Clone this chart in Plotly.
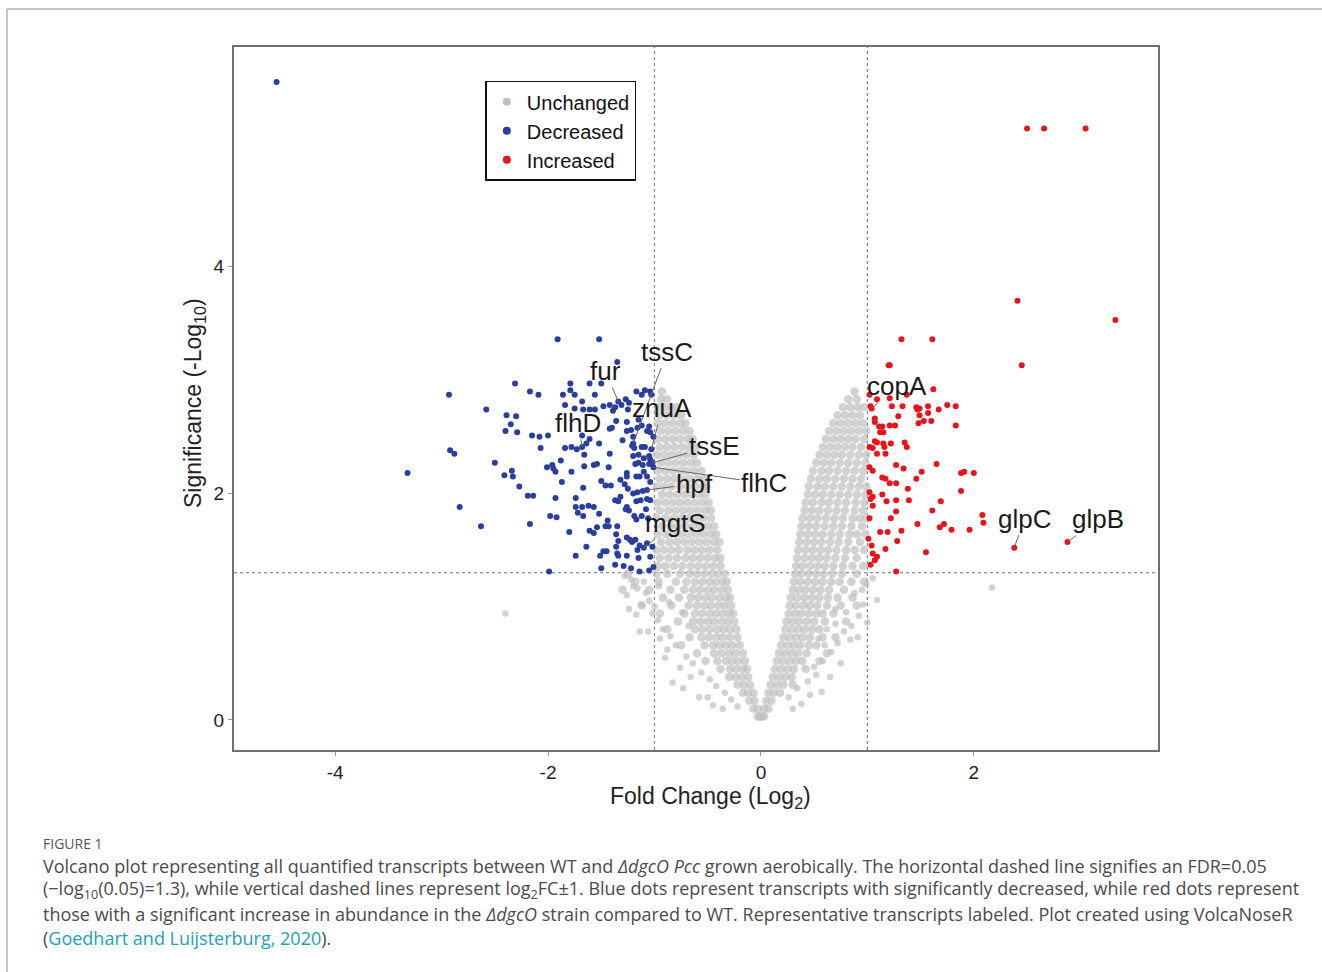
import plotly.graph_objects as go

# ---------------- data ----------------
blue_pts = [
    (-4.55, 5.63),
    (-1.91, 3.36), (-1.52, 3.36), (-1.35, 3.16),
    (-2.93, 2.87), (-2.31, 2.97), (-2.17, 2.90), (-2.09, 2.87), (-2.58, 2.74),
    (-2.39, 2.69), (-2.30, 2.68), (-2.35, 2.61), (-2.40, 2.55), (-2.29, 2.54),
    (-2.15, 2.51), (-2.08, 2.50), (-2.00, 2.51), (-2.07, 2.40),
    (-2.92, 2.38), (-2.88, 2.35), (-3.32, 2.18), (-2.50, 2.27),
    (-2.41, 2.16), (-2.33, 2.15), (-2.34, 2.20), (-2.27, 2.06), (-2.19, 1.98), (-2.14, 1.98),
    (-2.83, 1.88), (-2.63, 1.71), (-2.17, 1.73), (-1.98, 1.80), (-1.92, 1.79), (-1.99, 1.31),
    (-1.93, 1.96), (-1.87, 2.10), (-2.01, 2.23), (-1.96, 2.25), (-1.95, 2.22), (-1.93, 2.19),
    (-1.88, 2.29), (-1.78, 2.19), (-1.84, 2.40), (-1.78, 2.41), (-1.73, 2.39),
    (-1.66, 2.34), (-1.66, 2.24), (-1.57, 2.25), (-1.54, 2.26), (-1.68, 2.51), (-1.61, 2.48),
    (-1.64, 2.44), (-1.52, 2.44), (-1.43, 2.23), (-1.42, 2.35), (-1.50, 2.11), (-1.67, 2.05),
    (-1.74, 1.96), (-1.46, 2.07), (-1.41, 2.07), (-1.32, 2.12), (-1.26, 2.18),
    (-1.79, 2.97), (-1.79, 2.91), (-1.75, 2.87), (-1.86, 2.87), (-1.61, 2.97), (-1.50, 2.97),
    (-1.84, 2.78), (-1.75, 2.75), (-1.68, 2.81), (-1.67, 2.74), (-1.61, 2.74), (-1.56, 2.74),
    (-1.56, 2.87), (-1.48, 2.77), (-1.42, 2.78), (-1.37, 2.76), (-1.39, 2.73),
    (-1.31, 2.78), (-1.27, 2.83), (-1.24, 2.80),
    (-1.17, 2.90), (-1.12, 2.87), (-1.09, 2.91), (-1.04, 2.90), (-1.03, 2.87),
    (-1.25, 2.74), (-1.36, 2.64), (-1.42, 2.57), (-1.40, 2.58), (-1.26, 2.63), (-1.15, 2.65), (-1.16, 2.58),
    (-1.26, 2.55), (-1.22, 2.56), (-1.20, 2.50), (-1.12, 2.60), (-1.05, 2.59), (-1.04, 2.54), (-1.07, 2.55),
    (-1.30, 2.47), (-1.21, 2.42), (-1.19, 2.40), (-1.12, 2.41), (-1.09, 2.41), (-1.01, 2.50),
    (-1.20, 2.33), (-1.15, 2.34), (-1.10, 2.31), (-1.05, 2.33), (-1.04, 2.30),
    (-1.18, 2.26), (-1.15, 2.27), (-1.11, 2.25), (-1.05, 2.26),
    (-1.26, 2.15), (-1.17, 2.15), (-1.14, 2.15), (-1.07, 2.15), (-1.10, 2.19),
    (-1.28, 2.08), (-1.25, 2.04), (-1.20, 2.00), (-1.16, 2.01), (-1.11, 2.02), (-1.04, 2.10),
    (-1.37, 1.94), (-1.34, 1.93), (-1.32, 1.97), (-1.26, 1.88), (-1.17, 1.93), (-1.13, 1.94), (-1.07, 1.95), (-1.04, 1.94),
    (-1.74, 1.88), (-1.68, 1.88), (-1.62, 1.89), (-1.57, 1.88), (-1.72, 1.83), (-1.67, 1.80), (-1.52, 1.82),
    (-1.80, 1.66), (-1.61, 1.67), (-1.57, 1.65), (-1.54, 1.70), (-1.44, 1.76), (-1.43, 1.71), (-1.46, 1.71), (-1.35, 1.71),
    (-1.27, 1.86), (-1.24, 1.85), (-1.19, 1.80), (-1.17, 1.77), (-1.12, 1.80), (-1.08, 1.86), (-1.06, 1.78),
    (-1.36, 1.64), (-1.34, 1.58), (-1.36, 1.53), (-1.26, 1.61), (-1.23, 1.59), (-1.21, 1.57), (-1.18, 1.59),
    (-1.14, 1.54), (-1.16, 1.50), (-1.07, 1.56), (-1.02, 1.53),
    (-1.64, 1.53), (-1.74, 1.45), (-1.51, 1.45), (-1.48, 1.49), (-1.45, 1.49), (-1.35, 1.47), (-1.34, 1.45),
    (-1.26, 1.45), (-1.15, 1.43), (-1.04, 1.44),
    (-1.50, 1.34), (-1.37, 1.37), (-1.29, 1.36), (-1.22, 1.34), (-1.14, 1.31), (-1.05, 1.32), (-1.01, 1.35),
]

red_pts = [
    (2.50, 5.22), (2.66, 5.22), (3.05, 5.22),
    (2.41, 3.70), (3.33, 3.53), (1.32, 3.36), (1.61, 3.36), (1.20, 3.13), (1.21, 3.13), (2.45, 3.13),
    (1.62, 2.92), (1.37, 2.87), (1.21, 2.84), (1.09, 2.83), (1.02, 2.87),
    (1.03, 2.77), (1.23, 2.77), (1.33, 2.77),
    (1.46, 2.76), (1.49, 2.75), (1.57, 2.77), (1.47, 2.74), (1.67, 2.74), (1.75, 2.78), (1.83, 2.77),
    (1.57, 2.71), (1.49, 2.69), (1.29, 2.68), (1.07, 2.66), (1.07, 2.63),
    (1.53, 2.64), (1.60, 2.64), (1.48, 2.62),
    (1.11, 2.59), (1.14, 2.59), (1.21, 2.60), (1.26, 2.60), (1.83, 2.60),
    (1.12, 2.54), (1.15, 2.54),
    (1.07, 2.46), (1.09, 2.45), (1.15, 2.44), (1.22, 2.44), (1.35, 2.45), (1.37, 2.41),
    (1.02, 2.41), (1.05, 2.40), (1.16, 2.41),
    (1.09, 2.35), (1.17, 2.35),
    (1.65, 2.26), (1.27, 2.25), (1.34, 2.22), (1.02, 2.23), (1.05, 2.20),
    (1.51, 2.19), (1.46, 2.13), (1.88, 2.18), (1.91, 2.19), (2.00, 2.18),
    (1.14, 2.14), (1.17, 2.13), (1.21, 2.09), (1.27, 2.09),
    (1.02, 2.01), (1.05, 1.97), (1.03, 1.95),
    (1.14, 1.99), (1.18, 1.93), (1.27, 1.94), (1.38, 2.04), (1.39, 1.94),
    (1.88, 2.02), (1.69, 1.93), (1.05, 1.89), (1.27, 1.84), (1.61, 1.85),
    (2.08, 1.81), (2.09, 1.74), (1.02, 1.78), (1.22, 1.78),
    (1.47, 1.73), (1.72, 1.73), (1.68, 1.70), (1.79, 1.68), (1.96, 1.68),
    (1.12, 1.66), (1.19, 1.66), (1.32, 1.67),
    (1.01, 1.60), (1.04, 1.54), (1.28, 1.58), (1.17, 1.51),
    (1.55, 1.48), (1.05, 1.47), (1.09, 1.44), (1.07, 1.41), (1.03, 1.37), (1.27, 1.31),
]

# gray (unchanged) transcripts, by rows of significance: (y, [fold changes])
gray_left_rows = [
    (0.03, [-0.03, -0.01]),
    (0.10, [-0.07, -0.03]),
    (0.17, [-0.11, -0.06]),
    (0.24, [-0.17, -0.12, -0.07]),
    (0.31, [-0.22, -0.16, -0.10]),
    (0.38, [-0.30, -0.24, -0.18, -0.12]),
    (0.45, [-0.38, -0.29, -0.23, -0.17, -0.13]),
    (0.52, [-0.52, -0.41, -0.33, -0.27, -0.21, -0.15]),
    (0.59, [-0.60, -0.44, -0.37, -0.30, -0.24, -0.17]),
    (0.66, [-0.75, -0.53, -0.45, -0.39, -0.33, -0.27, -0.20]),
    (0.73, [-0.67, -0.56, -0.49, -0.42, -0.36, -0.29, -0.22]),
    (0.80, [-0.88, -0.62, -0.55, -0.48, -0.41, -0.35, -0.29, -0.23]),
    (0.87, [-0.78, -0.64, -0.57, -0.50, -0.44, -0.37, -0.31, -0.25]),
    (0.94, [-0.95, -0.72, -0.62, -0.55, -0.48, -0.42, -0.36, -0.30, -0.26]),
    (1.01, [-1.12, -0.84, -0.68, -0.60, -0.53, -0.47, -0.40, -0.34, -0.28]),
    (1.08, [-0.92, -0.77, -0.66, -0.59, -0.52, -0.46, -0.39, -0.33, -0.29]),
    (1.15, [-1.30, -1.05, -0.85, -0.72, -0.64, -0.57, -0.50, -0.44, -0.37, -0.31]),
    (1.22, [-1.18, -0.96, -0.80, -0.70, -0.62, -0.55, -0.48, -0.42, -0.36, -0.32]),
    (1.29, [-1.25, -0.98, -0.88, -0.76, -0.67, -0.60, -0.53, -0.46, -0.40, -0.34]),
    (1.36, [-0.97, -0.90, -0.82, -0.74, -0.66, -0.59, -0.52, -0.45, -0.38]),
    (1.43, [-0.95, -0.87, -0.79, -0.71, -0.64, -0.57, -0.50, -0.43, -0.38]),
    (1.50, [-0.98, -0.91, -0.84, -0.77, -0.69, -0.62, -0.55, -0.48, -0.41]),
    (1.57, [-0.94, -0.86, -0.79, -0.72, -0.65, -0.58, -0.51, -0.44, -0.39]),
    (1.64, [-0.97, -0.89, -0.82, -0.75, -0.68, -0.61, -0.54, -0.47, -0.42]),
    (1.71, [-0.93, -0.85, -0.78, -0.71, -0.64, -0.57, -0.50, -0.44]),
    (1.78, [-0.98, -0.90, -0.82, -0.75, -0.68, -0.61, -0.54, -0.47]),
    (1.85, [-0.95, -0.87, -0.80, -0.73, -0.66, -0.59, -0.52, -0.47]),
    (1.92, [-0.97, -0.90, -0.83, -0.76, -0.69, -0.62, -0.55, -0.49]),
    (1.99, [-0.93, -0.86, -0.79, -0.72, -0.65, -0.58, -0.52]),
    (2.06, [-0.98, -0.91, -0.84, -0.76, -0.69, -0.62, -0.55, -0.51]),
    (2.13, [-0.95, -0.88, -0.81, -0.74, -0.67, -0.60, -0.54]),
    (2.20, [-0.97, -0.90, -0.83, -0.76, -0.70, -0.63, -0.56]),
    (2.27, [-0.94, -0.87, -0.80, -0.73, -0.66, -0.60]),
    (2.34, [-0.98, -0.91, -0.84, -0.77, -0.70, -0.63]),
    (2.41, [-0.95, -0.88, -0.81, -0.74, -0.67, -0.61]),
    (2.48, [-0.97, -0.90, -0.83, -0.76, -0.69, -0.64]),
    (2.55, [-0.94, -0.87, -0.80, -0.73, -0.67]),
    (2.62, [-0.97, -0.90, -0.83, -0.76, -0.71]),
    (2.69, [-0.95, -0.88, -0.81, -0.75]),
    (2.76, [-0.97, -0.90, -0.84, -0.79]),
    (2.83, [-0.94, -0.88]),
    (2.90, [-0.93]),
]

gray_right_rows = [
    (0.03, [0.01, 0.03]),
    (0.10, [0.03, 0.07]),
    (0.17, [0.05, 0.10]),
    (0.24, [0.07, 0.12, 0.18]),
    (0.31, [0.09, 0.15, 0.21, 0.30]),
    (0.38, [0.11, 0.17, 0.23, 0.29]),
    (0.45, [0.13, 0.19, 0.25, 0.31, 0.42]),
    (0.52, [0.15, 0.21, 0.27, 0.33, 0.39, 0.55]),
    (0.59, [0.17, 0.23, 0.29, 0.35, 0.43, 0.62]),
    (0.66, [0.19, 0.25, 0.31, 0.37, 0.45, 0.52]),
    (0.73, [0.21, 0.27, 0.33, 0.39, 0.46, 0.58, 0.70]),
    (0.80, [0.23, 0.29, 0.35, 0.41, 0.48, 0.55]),
    (0.87, [0.24, 0.30, 0.36, 0.43, 0.50, 0.60, 0.80]),
    (0.94, [0.26, 0.32, 0.38, 0.45, 0.52, 0.58, 0.68]),
    (1.01, [0.27, 0.33, 0.40, 0.46, 0.53, 0.62, 0.75, 0.90]),
    (1.08, [0.28, 0.34, 0.41, 0.48, 0.55, 0.63, 0.72, 0.86]),
    (1.15, [0.30, 0.36, 0.42, 0.49, 0.56, 0.64, 0.78]),
    (1.22, [0.31, 0.37, 0.44, 0.51, 0.58, 0.66, 0.74, 0.85, 0.97]),
    (1.29, [0.32, 0.38, 0.45, 0.52, 0.59, 0.67, 0.76, 0.90]),
    (1.36, [0.33, 0.39, 0.46, 0.53, 0.60, 0.68, 0.77, 0.86, 0.96]),
    (1.43, [0.34, 0.41, 0.48, 0.55, 0.62, 0.70, 0.79, 0.90]),
    (1.50, [0.35, 0.42, 0.49, 0.56, 0.63, 0.71, 0.80, 0.88, 0.97]),
    (1.57, [0.36, 0.43, 0.50, 0.57, 0.65, 0.73, 0.82, 0.93]),
    (1.64, [0.37, 0.44, 0.51, 0.58, 0.66, 0.74, 0.83, 0.90, 0.98]),
    (1.71, [0.38, 0.45, 0.52, 0.60, 0.68, 0.76, 0.85, 0.95]),
    (1.78, [0.39, 0.46, 0.53, 0.61, 0.69, 0.77, 0.86, 0.93, 0.99]),
    (1.85, [0.41, 0.48, 0.55, 0.63, 0.71, 0.79, 0.88, 0.96]),
    (1.92, [0.42, 0.49, 0.57, 0.64, 0.72, 0.80, 0.89, 0.97]),
    (1.99, [0.44, 0.51, 0.58, 0.66, 0.74, 0.82, 0.90, 0.98]),
    (2.06, [0.45, 0.53, 0.60, 0.68, 0.76, 0.84, 0.92, 0.99]),
    (2.13, [0.47, 0.55, 0.62, 0.70, 0.78, 0.86, 0.94]),
    (2.20, [0.49, 0.57, 0.64, 0.72, 0.80, 0.88, 0.96]),
    (2.27, [0.52, 0.59, 0.66, 0.74, 0.82, 0.90, 0.98]),
    (2.34, [0.55, 0.62, 0.69, 0.76, 0.84, 0.92, 0.99]),
    (2.41, [0.58, 0.65, 0.72, 0.79, 0.86, 0.94]),
    (2.48, [0.61, 0.68, 0.75, 0.82, 0.89, 0.97]),
    (2.55, [0.64, 0.71, 0.78, 0.85, 0.92, 0.99]),
    (2.62, [0.68, 0.75, 0.82, 0.89, 0.96]),
    (2.69, [0.72, 0.79, 0.86, 0.93]),
    (2.76, [0.77, 0.84, 0.91, 0.97]),
    (2.83, [0.82, 0.90]),
    (2.90, [0.88]),
]

gray_outliers = [
    (-2.40, 0.94), (-1.28, 1.27), (-1.26, 1.10), (-1.24, 0.98), (-1.17, 0.93), (-1.02, 0.94),
    (-1.14, 0.78), (-1.06, 0.78), (-1.20, 1.18), (-1.10, 1.22), (-1.05, 1.05), (-0.95, 0.72),
    (-0.90, 0.55), (-0.83, 0.33), (-0.73, 0.28), (-0.58, 0.20), (-0.50, 0.20), (-0.88, 0.62),
    (-0.76, 0.46), (-0.66, 0.38), (-0.45, 0.13), (-0.36, 0.10),
    (-1.22, 1.24), (-1.16, 1.16), (-1.08, 1.12), (-1.00, 1.00), (-0.97, 0.88), (-0.92, 0.80),
    (-0.85, 0.74), (-0.80, 0.66), (-0.70, 0.56), (-0.64, 0.50), (-0.56, 0.42), (-0.48, 0.36),
    (-0.42, 0.30), (-0.34, 0.24), (-0.28, 0.18), (-0.22, 0.12), (-0.86, 1.04), (-0.96, 1.18),
    (-1.12, 1.02), (-0.74, 0.95), (-0.68, 0.83),
    (1.09, 1.06), (2.17, 1.17), (1.00, 0.86), (0.91, 0.73), (0.84, 0.71), (0.65, 0.38),
    (0.57, 0.25), (0.46, 0.22), (0.38, 0.14), (0.30, 0.10), (0.75, 0.50), (0.95, 1.15),
    (1.05, 1.25), (0.80, 0.95), (0.70, 0.85), (0.60, 0.66), (0.52, 0.40),
    (0.26, 0.20), (0.34, 0.28), (0.44, 0.34), (0.50, 0.47), (0.58, 0.52), (0.66, 0.60),
    (0.72, 0.68), (0.78, 0.78), (0.85, 0.83), (0.92, 0.92), (0.96, 1.02), (0.88, 1.12),
    (0.99, 1.20), (0.70, 0.98), (0.62, 0.80), (0.54, 0.72),
]

# labelled transcripts
gene_names = ["fur", "tssC", "znuA", "flhD", "tssE", "flhC", "hpf", "mgtS", "copA", "glpC", "glpB"]
gene_fc = [-1.34, -1.20, -1.03, -1.68, -1.02, -1.01, -1.07, -1.10, 1.04, 2.38, 2.88]
gene_sig = [2.81, 2.44, 2.39, 2.41, 2.27, 2.23, 2.03, 1.52, 2.75, 1.52, 1.57]

fc_threshold = 1.0
sig_threshold = 1.3

x_ticks = [-4, -2, 0, 2]
y_ticks = [0, 2, 4]

categories = ["Unchanged", "Decreased", "Increased"]

# label offsets in pixels (style only)
label_offsets = {
    "fur": (-13, -31), "tssC": (34, -92), "znuA": (11, -41), "flhD": (-4, -24),
    "tssE": (62, -17), "flhC": (111, 16), "hpf": (47, -6), "mgtS": (32, -25),
    "copA": (25, -22), "glpC": (10, -29), "glpB": (30, -23),
}

# ---------------- build ----------------
gx, gy, gs = [], [], []
for yv, xs in gray_left_rows + gray_right_rows:
    for xv in xs:
        gx.append(xv)
        gy.append(yv)
        gs.append(8.5)
for xv, yv in gray_outliers:
    gx.append(xv)
    gy.append(yv)
    gs.append(6.5)

bx = [p[0] for p in blue_pts]
by = [p[1] for p in blue_pts]
rx = [p[0] for p in red_pts]
ry = [p[1] for p in red_pts]
for n, xv, yv in zip(gene_names, gene_fc, gene_sig):
    if xv < 0:
        bx.append(xv); by.append(yv)
    else:
        rx.append(xv); ry.append(yv)

FONT = "Liberation Sans, Arial, Helvetica, sans-serif"
GRAY = "#bfbfbf"
BLUE = "#2a3f9d"
RED = "#e8141c"
colors = [GRAY, BLUE, RED]

fig = go.Figure()
series = [(gx, gy, gs), (bx, by, 6), (rx, ry, 6)]
for cat, col, (sx, sy, sz) in zip(categories, colors, series):
    fig.add_trace(go.Scatter(x=sx, y=sy, mode="markers", name=cat, legendgroup=cat,
                             showlegend=False,
                             marker=dict(color=col, size=sz, line=dict(width=0))))
# legend entries (no data of their own)
for cat, col in zip(categories, colors):
    fig.add_trace(go.Scatter(x=[None], y=[None], mode="markers", name=cat, legendgroup=cat,
                             marker=dict(color=col, size=8, line=dict(width=0))))

shapes = []
for xv in (-fc_threshold, fc_threshold):
    shapes.append(dict(type="line", xref="x", yref="paper", x0=xv, x1=xv, y0=0, y1=1,
                       line=dict(color="#8a8a8a", width=1.2, dash="dot"), layer="below"))
shapes.append(dict(type="line", xref="paper", yref="y", x0=0, x1=1, y0=sig_threshold, y1=sig_threshold,
                   line=dict(color="#8a8a8a", width=1.2, dash="dot"), layer="below"))
# page frame
shapes.append(dict(type="line", xref="paper", yref="paper", x0=-0.2457, x1=1.18, y0=1.0541, y1=1.0541,
                   line=dict(color="#b0b0b0", width=1.5)))
shapes.append(dict(type="line", xref="paper", yref="paper", x0=-0.2457, x1=-0.2457, y0=1.0541, y1=-0.32,
                   line=dict(color="#b0b0b0", width=1.5)))

annotations = []
for n, xv, yv in zip(gene_names, gene_fc, gene_sig):
    ax, ay = label_offsets[n]
    annotations.append(dict(x=xv, y=yv, xref="x", yref="y", text=n, showarrow=True,
                            arrowhead=0, arrowwidth=1, arrowcolor="#666", ax=ax, ay=ay,
                            font=dict(family=FONT, size=26, color="#1a1a1a")))

# axis titles
annotations.append(dict(x=0.5162, y=-0.067, xref="paper", yref="paper", showarrow=False,
                        text="Fold Change (Log<sub>2</sub>)", xanchor="center", yanchor="middle",
                        font=dict(family=FONT, size=23, color="#222")))
annotations.append(dict(x=-0.0422, y=0.4936, xref="paper", yref="paper", showarrow=False,
                        text="Significance (-Log<sub>10</sub>)", textangle=-90,
                        xanchor="center", yanchor="middle",
                        font=dict(family=FONT, size=23, color="#222")))

# caption
CAP = "Open Sans, Noto Sans, sans-serif"
cap_color = "#4a4a4a"
annotations.append(dict(x=-0.2092, y=-0.1323, xref="paper", yref="paper", showarrow=False,
                        text="FIGURE 1", xanchor="left", yanchor="middle",
                        font=dict(family=CAP, size=14, color="#555")))
cap_lines = [
    "Volcano plot representing all quantified transcripts between WT and <i>ΔdgcO Pcc</i> grown aerobically. "
    "The horizontal dashed line signifies an FDR=0.05",
    "(−log<sub>10</sub>(0.05)=1.3), while vertical dashed lines represent log<sub>2</sub>FC±1. "
    "Blue dots represent transcripts with significantly decreased, while red dots represent",
    "those with a significant increase in abundance in the <i>ΔdgcO</i> strain compared to WT. "
    "Representative transcripts labeled. Plot created using VolcaNoseR",
    "(<span style='color:#1b9fc0'>Goedhart and Luijsterburg, 2020</span>).",
]
cap_y = [-0.1650, -0.1991, -0.2333, -0.2674]
for t, yy in zip(cap_lines, cap_y):
    annotations.append(dict(x=-0.2092, y=yy, xref="paper", yref="paper", showarrow=False,
                            text=t, xanchor="left", yanchor="middle",
                            font=dict(family=CAP, size=18, color=cap_color)))

axis_common = dict(showgrid=False, zeroline=False, showline=True, mirror=True,
                   linecolor="#707070", linewidth=2, ticks="outside", ticklen=4,
                   tickcolor="#999", tickfont=dict(family=FONT, size=19, color="#222"))

fig.update_layout(
    width=1322, height=972,
    margin=dict(l=234, r=164, t=47, b=222),
    paper_bgcolor="white", plot_bgcolor="white",
    font=dict(family=FONT),
    xaxis=dict(range=[-4.95, 3.73], tickvals=x_ticks, ticktext=[str(v) for v in x_ticks], **axis_common),
    yaxis=dict(range=[-0.265, 5.94], tickvals=y_ticks, ticktext=[str(v) for v in y_ticks], **axis_common),
    legend=dict(x=0.272, y=0.952, xanchor="left", yanchor="top", bgcolor="white",
                bordercolor="#111", borderwidth=1.5, font=dict(family=FONT, size=20, color="#111"),
                itemwidth=30, tracegroupgap=0),
    shapes=shapes,
    annotations=annotations,
    showlegend=True,
)

fig.write_html("out.html")
